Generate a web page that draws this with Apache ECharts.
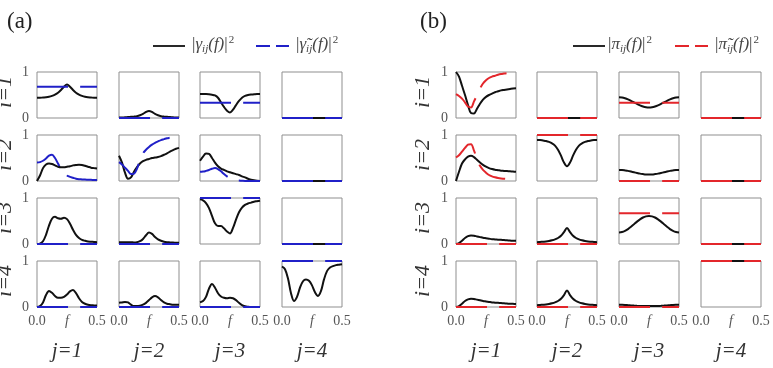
<!DOCTYPE html>
<html><head><meta charset="utf-8">
<script src="https://cdn.jsdelivr.net/npm/echarts@6/dist/echarts.min.js"></script>
<style>html,body{margin:0;padding:0;background:#fff}#c{width:773px;height:368px}</style>
</head><body><div id="c"></div>
<script>
// frequency grid (x values) and end points for constant curves
const F = [0,0.025,0.05,0.075,0.1,0.125,0.15,0.175,0.2,0.225,0.25,0.275,0.3,0.325,0.35,0.375,0.4,0.425,0.45,0.475,0.5];
const FEND = [0, 0.5];
const xTickLabels = ['0.0', 'f', '0.5'];
const rowLabels = ['i=1','i=2','i=3','i=4'];
const colLabels = ['j=1','j=2','j=3','j=4'];

// ---- panel (a): |gamma_ij(f)|^2 (solid black) and |gamma~_ij(f)|^2 (dashed blue)
const g11 = [0.44,0.44,0.445,0.45,0.46,0.48,0.51,0.55,0.61,0.68,0.73,0.68,0.61,0.55,0.51,0.48,0.46,0.45,0.445,0.44,0.44];
const gt11 = [0.68,0.68];
const g12 = [0.01,0.01,0.015,0.02,0.025,0.03,0.04,0.06,0.09,0.13,0.15,0.13,0.09,0.06,0.04,0.03,0.025,0.02,0.015,0.01,0.01];
const gt12 = [0,0];
const g13 = [0.52,0.52,0.52,0.515,0.505,0.49,0.44,0.34,0.24,0.16,0.12,0.18,0.28,0.37,0.44,0.48,0.50,0.51,0.515,0.52,0.52];
const gt13 = [0.33,0.33];
const g14 = [0,0];
const gt14 = [0,0];

const g21 = [0,0.12,0.28,0.36,0.38,0.37,0.34,0.31,0.30,0.30,0.31,0.32,0.34,0.35,0.355,0.35,0.33,0.31,0.29,0.28,0.27];
const gt21 = [0.40,0.41,0.44,0.49,0.55,0.57,0.50,0.38,0.27,0.18,0.12,0.09,0.07,0.05,0.04,0.035,0.03,0.028,0.025,0.022,0.02];
const g22 = [0.55,0.40,0.18,0.05,0.08,0.20,0.30,0.38,0.43,0.46,0.48,0.50,0.51,0.52,0.54,0.57,0.60,0.64,0.67,0.70,0.72];
const gt22 = [0.41,0.36,0.29,0.22,0.15,0.16,0.27,0.45,0.60,0.68,0.74,0.79,0.83,0.86,0.89,0.91,0.93,0.94,0.95,0.955,0.96];
const g23 = [0.44,0.53,0.60,0.59,0.50,0.40,0.32,0.27,0.24,0.21,0.19,0.17,0.15,0.13,0.10,0.08,0.05,0.03,0.015,0.005,0];
const gt23 = [0.20,0.205,0.22,0.24,0.265,0.28,0.26,0.21,0.15,0.10,0.06,0.03,0.015,0.01,0.005,0,0,0,0,0,0];
const g24 = [0,0];
const gt24 = [0,0];

const g31 = [0,0.01,0.06,0.20,0.40,0.55,0.59,0.56,0.55,0.57,0.54,0.44,0.31,0.20,0.13,0.09,0.07,0.055,0.05,0.045,0.04];
const gt31 = [0,0];
const g32 = [0.04,0.04,0.04,0.04,0.04,0.035,0.04,0.06,0.11,0.19,0.25,0.22,0.15,0.10,0.07,0.05,0.04,0.035,0.03,0.028,0.025];
const gt32 = [0,0];
const g33 = [0.97,0.95,0.89,0.78,0.61,0.45,0.39,0.39,0.34,0.27,0.23,0.35,0.53,0.69,0.79,0.85,0.88,0.90,0.92,0.93,0.94];
const gt33 = [1,1];
const g34 = [0,0];
const gt34 = [0,0];

const g41 = [0,0.02,0.10,0.26,0.35,0.31,0.24,0.20,0.20,0.22,0.27,0.34,0.37,0.30,0.19,0.11,0.07,0.05,0.04,0.035,0.03];
const gt41 = [0,0];
const g42 = [0.09,0.10,0.11,0.10,0.05,0.02,0.02,0.03,0.05,0.09,0.15,0.21,0.24,0.21,0.15,0.10,0.07,0.06,0.05,0.05,0.05];
const gt42 = [0,0];
const g43 = [0.10,0.13,0.22,0.40,0.50,0.42,0.30,0.23,0.20,0.19,0.20,0.19,0.15,0.09,0.04,0.015,0.005,0,0,0,0];
const gt43 = [0,0];
const g44 = [0.88,0.82,0.62,0.30,0.13,0.22,0.42,0.56,0.60,0.57,0.47,0.32,0.24,0.35,0.60,0.78,0.86,0.89,0.91,0.92,0.93];
const gt44 = [1,1];

// ---- panel (b): |pi_ij(f)|^2 (solid black) and |pi~_ij(f)|^2 (dashed red)
const p11 = [1.0,0.90,0.70,0.50,0.28,0.11,0.10,0.20,0.31,0.40,0.46,0.50,0.53,0.56,0.58,0.60,0.61,0.62,0.63,0.64,0.645];
const pt11 = [0.52,0.48,0.42,0.34,0.25,0.23,0.36,0.50,0.64,0.75,0.82,0.87,0.90,0.92,0.94,0.955,0.965,0.975,0.98,0.985,0.99];
const p12 = [0,0];
const pt12 = [0,0];
const p13 = [0.45,0.445,0.429,0.405,0.374,0.34,0.306,0.275,0.251,0.235,0.23,0.235,0.251,0.275,0.306,0.34,0.374,0.405,0.429,0.445,0.45];
const pt13 = [0.33,0.33];
const p14 = [0,0];
const pt14 = [0,0];

const p21 = [0,0.20,0.38,0.47,0.53,0.55,0.52,0.46,0.40,0.35,0.31,0.28,0.26,0.245,0.235,0.225,0.22,0.215,0.21,0.205,0.20];
const pt21 = [0.51,0.56,0.64,0.72,0.79,0.80,0.66,0.48,0.33,0.24,0.18,0.13,0.10,0.08,0.065,0.055,0.05,0.045,0.04,0.04,0.04];
const p22 = [0.89,0.89,0.88,0.87,0.85,0.82,0.77,0.68,0.55,0.40,0.32,0.40,0.55,0.68,0.77,0.82,0.85,0.87,0.88,0.89,0.89];
const pt22 = [1,1];
const p23 = [0.24,0.238,0.23,0.22,0.205,0.19,0.175,0.16,0.15,0.142,0.14,0.142,0.15,0.16,0.175,0.19,0.205,0.22,0.23,0.238,0.24];
const pt23 = [0,0];
const p24 = [0,0];
const pt24 = [0,0];

const p31 = [0,0.02,0.07,0.13,0.17,0.185,0.18,0.165,0.15,0.135,0.125,0.115,0.105,0.10,0.095,0.09,0.085,0.08,0.075,0.07,0.07];
const pt31 = [0,0];
const p32 = [0.04,0.045,0.05,0.055,0.065,0.08,0.10,0.13,0.18,0.26,0.35,0.26,0.18,0.13,0.10,0.08,0.065,0.055,0.05,0.045,0.04];
const pt32 = [0,0];
const p33 = [0.25,0.259,0.284,0.324,0.374,0.43,0.486,0.536,0.576,0.601,0.61,0.601,0.576,0.536,0.486,0.43,0.374,0.324,0.284,0.259,0.25];
const pt33 = [0.67,0.67];
const p34 = [0,0];
const pt34 = [0,0];

const p41 = [0,0.02,0.07,0.13,0.165,0.18,0.175,0.16,0.145,0.13,0.12,0.11,0.10,0.095,0.09,0.085,0.08,0.075,0.07,0.068,0.065];
const pt41 = [0,0];
const p42 = [0.04,0.045,0.05,0.055,0.065,0.08,0.10,0.13,0.18,0.26,0.36,0.26,0.18,0.13,0.10,0.08,0.065,0.055,0.05,0.045,0.04];
const pt42 = [0,0];
const p43 = [0.05,0.048,0.045,0.04,0.035,0.03,0.026,0.023,0.021,0.02,0.02,0.02,0.021,0.023,0.026,0.03,0.035,0.04,0.045,0.048,0.05];
const pt43 = [0,0];
const p44 = [1,1];
const pt44 = [1,1];

// tables built from the named arrays
const A_SOLID = [[g11,g12,g13,g14],[g21,g22,g23,g24],[g31,g32,g33,g34],[g41,g42,g43,g44]];
const A_DASH  = [[gt11,gt12,gt13,gt14],[gt21,gt22,gt23,gt24],[gt31,gt32,gt33,gt34],[gt41,gt42,gt43,gt44]];
const B_SOLID = [[p11,p12,p13,p14],[p21,p22,p23,p24],[p31,p32,p33,p34],[p41,p42,p43,p44]];
const B_DASH  = [[pt11,pt12,pt13,pt14],[pt21,pt22,pt23,pt24],[pt31,pt32,pt33,pt34],[pt41,pt42,pt43,pt44]];

const SERIF = '"Liberation Serif", "Times New Roman", serif';
const BLUE = '#2020c8', RED = '#e3262b', BLACK = '#111111', BOX = '#8f8f8f', LABEL = '#555555';
const aLeft = [37,119,200,282], bLeft = [456,537,619,701], tops = [72,135,198,261];
const W = 60, H = 46;

function pts(ys){ const xs = ys.length === 2 ? FEND : F; return ys.map((y,k)=>[xs[k], y]); }

const chart = echarts.init(document.getElementById('c'), null, {renderer:'canvas'});
const grids=[], xAxes=[], yAxes=[], series=[], graphics=[];

[[A_SOLID,A_DASH,aLeft,BLUE],[B_SOLID,B_DASH,bLeft,RED]].forEach(([S,D,lefts,col])=>{
  for (let r=0;r<4;r++) for (let c=0;c<4;c++){
    const gi = grids.length;
    grids.push({left:lefts[c], top:tops[r], width:W, height:H, show:true, borderColor:BOX, borderWidth:1,
      backgroundColor:'transparent', containLabel:false, outerBoundsMode:'none'});
    xAxes.push({type:'value', gridIndex:gi, min:0, max:0.5, interval:0.25,
      axisLine:{show:false}, axisTick:{show:false}, splitLine:{show:false},
      axisLabel:{show:r===3, margin:7, color:LABEL, fontFamily:SERIF, fontSize:14, showMinLabel:true, showMaxLabel:true,
        formatter:(v)=>{ const k=Math.round(v/0.25); return k===1 ? '{f|'+xTickLabels[1]+'}' : xTickLabels[k]; },
        rich:{f:{fontStyle:'italic', fontFamily:SERIF, fontSize:14, color:LABEL}}}});
    yAxes.push({type:'value', gridIndex:gi, min:0, max:1, interval:1,
      axisLine:{show:false}, axisTick:{show:false}, splitLine:{show:false},
      axisLabel:{show:c===0, margin:8, color:LABEL, fontFamily:SERIF, fontSize:14, showMinLabel:true, showMaxLabel:true}});
    series.push({type:'line', xAxisIndex:gi, yAxisIndex:gi, data:pts(S[r][c]), symbol:'none', showSymbol:false,
      smooth:0.35, clip:false, silent:true, lineStyle:{color:BLACK, width:2}});
    series.push({type:'line', xAxisIndex:gi, yAxisIndex:gi, data:pts(D[r][c]), symbol:'none', showSymbol:false,
      smooth:0.35, clip:false, silent:true, lineStyle:{color:col, width:2, type:[31,12]}});
  }
});

function txt(x,y,text,font,color,rot,align){
  return {type:'text', x:x, y:y, rotation:rot||0, silent:true,
    style:{text:text, font:font, fill:color, align:align||'center', verticalAlign:'middle',
           textAlign:align||'center', textVerticalAlign:'middle'}};
}
// panel titles
graphics.push(txt(7,22,'(a)','23px '+SERIF,'#222',0,'left'));
graphics.push(txt(420,22,'(b)','23px '+SERIF,'#222',0,'left'));
// row / column labels
for (let r=0;r<4;r++){
  const cy = tops[r] + H/2 - 3;
  graphics.push(txt(5,cy,rowLabels[r],'italic 22px '+SERIF,'#333',Math.PI/2));
  graphics.push(txt(423,cy,rowLabels[r],'italic 22px '+SERIF,'#333',Math.PI/2));
}
for (let c=0;c<4;c++){
  graphics.push(txt(aLeft[c]+W/2,351,colLabels[c],'italic 21px '+SERIF,'#333'));
  graphics.push(txt(bLeft[c]+W/2,351,colLabels[c],'italic 21px '+SERIF,'#333'));
}
// legends
function legendText(x,y,sym){
  return {type:'text', x:x, y:y, silent:true,
    style:{text:'|{g|'+sym+'}{s|ij}{g|(f)}|{p|2}', font:'17px '+SERIF, fill:'#444',
      align:'left', verticalAlign:'middle', textAlign:'left', textVerticalAlign:'middle',
      rich:{
        g:{fontFamily:SERIF, fontSize:17, fontStyle:'italic', fill:'#444', color:'#444'},
        s:{fontFamily:SERIF, fontSize:11, fontStyle:'italic', fill:'#444', color:'#444', verticalAlign:'bottom', padding:[7,0,0,0]},
        p:{fontFamily:SERIF, fontSize:11, fill:'#444', color:'#444', verticalAlign:'top', padding:[0,0,9,1]}
      }}};
}
graphics.push({type:'line', silent:true, shape:{x1:153,y1:46,x2:185,y2:46}, style:{stroke:BLACK, lineWidth:1.8}});
graphics.push(legendText(192,45,'\u03B3'));
graphics.push({type:'line', silent:true, shape:{x1:256,y1:46,x2:289,y2:46}, style:{stroke:BLUE, lineWidth:1.8, lineDash:[14,6]}});
graphics.push(legendText(296,45,'\u03B3\u0303'));
graphics.push({type:'line', silent:true, shape:{x1:573,y1:46,x2:605,y2:46}, style:{stroke:BLACK, lineWidth:1.8}});
graphics.push(legendText(608,45,'\u03C0'));
graphics.push({type:'line', silent:true, shape:{x1:675,y1:46,x2:708,y2:46}, style:{stroke:RED, lineWidth:1.8, lineDash:[14,6]}});
graphics.push(legendText(715,45,'\u03C0\u0303'));

chart.setOption({animation:false, backgroundColor:'#ffffff', grid:grids, xAxis:xAxes, yAxis:yAxes, series:series, graphic:graphics});
</script></body></html>
